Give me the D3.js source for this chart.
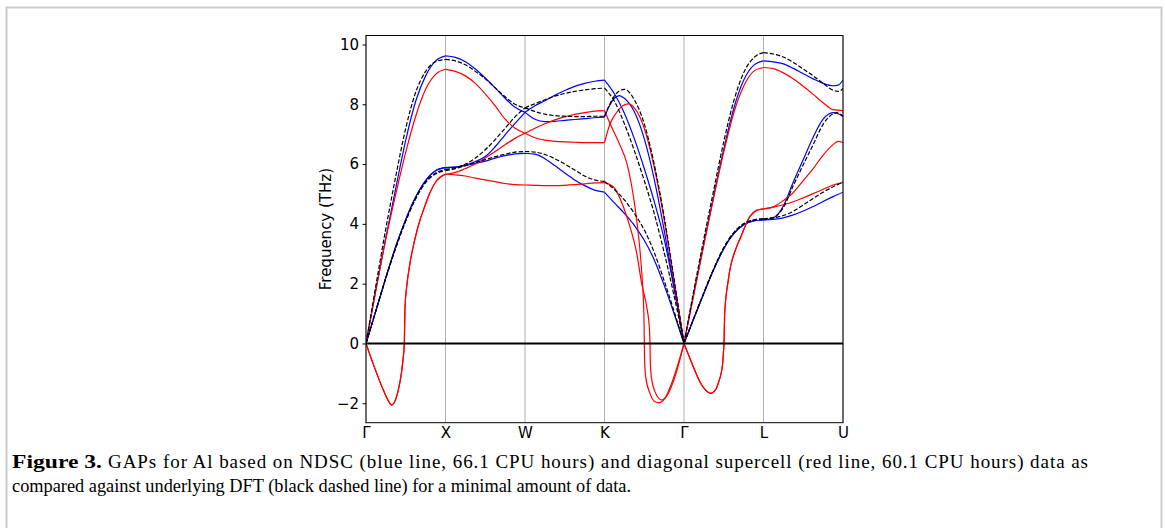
<!DOCTYPE html>
<html>
<head>
<meta charset="utf-8">
<script src="https://cdn.jsdelivr.net/npm/d3@7"></script>
<style>
  body { margin: 0; background: #fff; }
  svg { display: block; }
</style>
</head>
<body>
<div id="chart"></div>
<script>
// path positions of the high-symmetry points and their labels
var qTicks = [0, 1, 2, 3, 4, 5, 6];
var qLabels = ["Γ", "X", "W", "K", "Γ", "L", "U"];
var yTicks = [-2, 0, 2, 4, 6, 8, 10];

// DFT (black dashed), [q, THz]
var dftTop = [[0,0],[0.125,1.95],[0.25,3.85],[0.375,5.6],[0.5,7.2],[0.625,8.4],[0.75,9.1],[0.875,9.42],[1,9.5],
  [1.125,9.45],[1.25,9.32],[1.375,9.1],[1.5,8.85],[1.625,8.55],[1.75,8.25],[1.875,8.0],[2,7.88],
  [2.125,8.02],[2.25,8.15],[2.375,8.27],[2.5,8.36],[2.625,8.43],[2.75,8.48],[2.875,8.52],[3,8.54],
  [3.125,8.1],[3.25,7.35],[3.375,6.45],[3.5,5.45],[3.625,4.35],[3.75,3.05],[3.875,1.6],[4,0],
  [4.125,1.8],[4.25,3.5],[4.375,5.15],[4.5,6.75],[4.625,8.1],[4.75,9.05],[4.875,9.55],[5,9.73],
  [5.125,9.68],[5.25,9.58],[5.375,9.4],[5.5,9.18],[5.625,8.95],[5.75,8.7],[5.875,8.47],[5.94,8.43],[6,8.53]];
var dftMid = [[0,0],[0.125,1.1],[0.25,2.2],[0.375,3.2],[0.5,4.1],[0.625,4.85],[0.75,5.4],[0.875,5.7],[1,5.82],
  [1.125,5.88],[1.25,6.0],[1.375,6.2],[1.5,6.48],[1.625,6.82],[1.75,7.2],[1.875,7.58],[2,7.88],
  [2.125,7.76],[2.25,7.67],[2.375,7.62],[2.5,7.6],[2.625,7.59],[2.75,7.59],[2.875,7.6],[3,7.6],
  [3.0625,7.98],[3.125,8.28],[3.1875,8.45],[3.25,8.5],[3.3125,8.4],[3.375,8.15],[3.5,7.35],[3.625,6.0],[3.75,4.25],[3.875,2.15],[4,0],
  [4.125,0.85],[4.25,1.7],[4.375,2.5],[4.5,3.2],[4.625,3.7],[4.75,4.0],[4.875,4.13],[5,4.17],
  [5.125,4.22],[5.25,4.55],[5.375,5.28],[5.5,5.98],[5.625,6.65],[5.75,7.33],[5.875,7.68],[5.92,7.72],[6,7.6]];
var dftLow = [[0,0],[0.125,1.1],[0.25,2.2],[0.375,3.2],[0.5,4.1],[0.625,4.84],[0.75,5.38],[0.875,5.67],[1,5.78],
  [1.125,5.85],[1.25,5.95],[1.375,6.05],[1.5,6.15],[1.625,6.25],[1.75,6.33],[1.875,6.4],[2,6.42],
  [2.125,6.4],[2.25,6.32],[2.375,6.18],[2.5,6.0],[2.625,5.8],[2.75,5.6],[2.875,5.47],[3,5.42],
  [3.125,5.15],[3.25,4.8],[3.375,4.35],[3.5,3.8],[3.625,3.05],[3.75,2.1],[3.875,1.08],[4,0],
  [4.125,0.85],[4.25,1.7],[4.375,2.5],[4.5,3.2],[4.625,3.7],[4.75,4.0],[4.875,4.13],[5,4.17],
  [5.125,4.2],[5.25,4.28],[5.375,4.42],[5.5,4.63],[5.625,4.85],[5.75,5.06],[5.875,5.24],[6,5.4]];

// NDSC (blue)
var ndscTop = [[0,0],[0.125,1.8],[0.25,3.55],[0.375,5.2],[0.5,6.8],[0.625,8.1],[0.75,8.95],[0.875,9.45],[1,9.62],
  [1.125,9.57],[1.25,9.42],[1.375,9.18],[1.5,8.88],[1.625,8.55],[1.75,8.2],[1.875,7.9],[2,7.73],
  [2.125,7.95],[2.25,8.12],[2.375,8.3],[2.5,8.46],[2.625,8.6],[2.75,8.7],[2.875,8.77],[3,8.81],
  [3.125,8.35],[3.25,7.7],[3.375,6.85],[3.5,5.85],[3.625,4.75],[3.75,3.5],[3.875,1.85],[4,0],
  [4.125,1.7],[4.25,3.35],[4.375,4.95],[4.5,6.5],[4.625,7.85],[4.75,8.8],[4.875,9.3],[5,9.45],
  [5.125,9.42],[5.25,9.35],[5.375,9.2],[5.5,9.02],[5.625,8.85],[5.75,8.7],[5.875,8.62],[5.94,8.64],[6,8.81]];
var ndscMid = [[0,0],[0.125,1.1],[0.25,2.2],[0.375,3.25],[0.5,4.15],[0.625,4.9],[0.75,5.45],[0.875,5.78],[1,5.88],
  [1.125,5.9],[1.25,5.97],[1.375,6.08],[1.5,6.25],[1.625,6.58],[1.75,6.98],[1.875,7.36],[2,7.73],
  [2.125,7.5],[2.25,7.42],[2.375,7.43],[2.5,7.46],[2.625,7.49],[2.75,7.52],[2.875,7.55],[3,7.57],
  [3.0625,7.95],[3.125,8.2],[3.1875,8.29],[3.25,8.2],[3.375,7.75],[3.5,6.85],[3.625,5.5],[3.75,3.8],[3.875,1.9],[4,0],
  [4.125,0.85],[4.25,1.68],[4.375,2.48],[4.5,3.17],[4.625,3.67],[4.75,3.97],[4.875,4.1],[5,4.13],
  [5.125,4.2],[5.25,4.6],[5.375,5.4],[5.5,6.15],[5.625,6.9],[5.75,7.5],[5.875,7.72],[5.92,7.7],[6,7.59]];
var ndscLow = [[0,0],[0.125,1.1],[0.25,2.2],[0.375,3.25],[0.5,4.15],[0.625,4.9],[0.75,5.45],[0.875,5.78],[1,5.88],
  [1.125,5.9],[1.25,5.95],[1.375,6.02],[1.5,6.1],[1.625,6.2],[1.75,6.28],[1.875,6.34],[2,6.36],
  [2.125,6.33],[2.25,6.18],[2.375,5.95],[2.5,5.7],[2.625,5.47],[2.75,5.28],[2.875,5.13],[3,5.06],
  [3.125,4.7],[3.25,4.35],[3.375,3.95],[3.5,3.45],[3.625,2.8],[3.75,1.95],[3.875,1.0],[4,0],
  [4.125,0.85],[4.25,1.68],[4.375,2.48],[4.5,3.17],[4.625,3.67],[4.75,3.97],[4.875,4.1],[5,4.13],
  [5.125,4.15],[5.25,4.2],[5.375,4.3],[5.5,4.43],[5.625,4.58],[5.75,4.75],[5.875,4.91],[6,5.06]];

// diagonal supercell (red), imaginary modes plotted negative
var diagTop = [[0,0],[0.125,1.8],[0.25,3.5],[0.375,5.0],[0.5,6.4],[0.625,7.6],[0.75,8.5],[0.875,9.0],[1,9.17],
  [1.125,9.1],[1.25,8.95],[1.375,8.7],[1.5,8.35],[1.625,7.95],[1.75,7.5],[1.875,7.2],[2,7.03],
  [2.125,7.2],[2.25,7.35],[2.375,7.48],[2.5,7.58],[2.625,7.66],[2.75,7.72],[2.875,7.77],[3,7.79],
  [3.07,7.35],[3.132,7.0],[3.2,6.6],[3.279,6.05],[3.34,5.3],[3.405,4.13],[3.45,3.0],[3.478,2.0],[3.492,1.25],[3.498,0.6],[3.501,0],
  [3.505,-0.6],[3.518,-1.11],[3.572,-1.67],[3.635,-1.95],[3.686,-1.98],[3.761,-1.83],[3.845,-1.33],[3.928,-0.66],[4,0],
  [4.125,1.65],[4.25,3.3],[4.375,4.9],[4.5,6.4],[4.625,7.7],[4.75,8.6],[4.875,9.1],[5,9.23],
  [5.125,9.19],[5.25,9.05],[5.375,8.85],[5.5,8.6],[5.625,8.33],[5.75,8.05],[5.875,7.82],[6,7.79]];
var diagMid = [[0,0],[0.072,-0.55],[0.135,-1.0],[0.218,-1.56],[0.3,-2.0],[0.323,-2.06],[0.35,-2.0],[0.406,-1.56],
  [0.445,-1.0],[0.465,-0.55],[0.482,0],[0.486,0.6],[0.491,1.23],[0.512,1.9],[0.553,2.68],[0.616,3.5],[0.679,4.13],
  [0.721,4.45],[0.805,5.05],[0.889,5.45],[1,5.66],
  [1.125,5.72],[1.25,5.85],[1.375,6.0],[1.5,6.2],[1.625,6.42],[1.75,6.65],[1.875,6.86],[2,7.03],
  [2.125,6.88],[2.25,6.8],[2.375,6.76],[2.5,6.74],[2.625,6.73],[2.75,6.72],[2.875,6.72],[3,6.72],
  [3.07,7.35],[3.132,7.65],[3.2,7.88],[3.3,8.01],[3.375,7.88],[3.5,7.2],[3.625,5.9],[3.75,4.15],[3.875,2.1],[4,0],
  [4.06,-0.4],[4.117,-0.78],[4.223,-1.39],[4.28,-1.58],[4.336,-1.67],[4.39,-1.58],[4.431,-1.33],[4.487,-0.66],
  [4.496,-0.3],[4.503,0],[4.512,1.01],[4.557,2.12],[4.663,3.24],[4.704,3.5],[4.83,4.25],[4.914,4.45],[5,4.5],
  [5.125,4.57],[5.25,4.78],[5.375,5.05],[5.5,5.45],[5.625,5.85],[5.75,6.3],[5.875,6.65],[5.94,6.76],[6,6.72]];
var diagLow = [[0,0],[0.072,-0.55],[0.135,-1.0],[0.218,-1.56],[0.3,-2.0],[0.323,-2.06],[0.35,-2.0],[0.406,-1.56],
  [0.445,-1.0],[0.465,-0.55],[0.482,0],[0.486,0.6],[0.491,1.23],[0.512,1.9],[0.553,2.68],[0.616,3.5],[0.679,4.13],
  [0.721,4.45],[0.805,5.05],[0.889,5.45],[1,5.66],
  [1.125,5.64],[1.25,5.6],[1.375,5.53],[1.5,5.47],[1.625,5.41],[1.75,5.35],[1.875,5.31],[2,5.3],
  [2.125,5.29],[2.25,5.28],[2.375,5.28],[2.5,5.29],[2.625,5.31],[2.75,5.34],[2.875,5.37],[3,5.38],
  [3.111,5.24],[3.236,4.58],[3.321,3.9],[3.405,3.02],[3.468,2.0],[3.531,1.23],[3.555,0.8],[3.566,0.45],[3.572,0],
  [3.576,-0.6],[3.589,-1.11],[3.635,-1.61],[3.719,-1.89],[3.803,-1.67],[3.887,-1.11],[4,0],
  [4.06,-0.4],[4.117,-0.78],[4.223,-1.39],[4.28,-1.58],[4.336,-1.67],[4.39,-1.58],[4.431,-1.33],[4.487,-0.66],
  [4.496,-0.3],[4.503,0],[4.512,1.01],[4.557,2.12],[4.663,3.24],[4.704,3.5],[4.83,4.25],[4.914,4.45],[5,4.5],
  [5.125,4.56],[5.25,4.64],[5.375,4.74],[5.5,4.87],[5.625,5.01],[5.75,5.16],[5.875,5.3],[6,5.38]];

var W = 1165, H = 528;
var margin = {top: 35.5, left: 366, right: 1165 - 843, bottom: 528 - 422.7};
var width = W - margin.left - margin.right,
    height = H - margin.top - margin.bottom;

var svg = d3.select("#chart").append("svg")
    .attr("width", W)
    .attr("height", H);

// page frame
svg.append("rect")
    .attr("x", 6.5).attr("y", 7.5)
    .attr("width", 1155).attr("height", 600)
    .attr("fill", "none")
    .attr("stroke", "#cccccc")
    .attr("stroke-width", 2);

var g = svg.append("g")
    .attr("transform", "translate(" + margin.left + "," + margin.top + ")");

var x = d3.scaleLinear().domain([0, 6]).range([0, width]);
var y = d3.scaleLinear().domain([-2.65, 10.3]).range([height, 0]);

g.append("defs").append("clipPath").attr("id", "clip")
  .append("rect").attr("width", width).attr("height", height);

// vertical grid at high-symmetry points
g.selectAll(".vgrid")
  .data(qTicks)
  .enter().append("line")
    .attr("x1", function(d) { return x(d); })
    .attr("x2", function(d) { return x(d); })
    .attr("y1", 0).attr("y2", height)
    .attr("stroke", "#b0b0b0")
    .attr("stroke-width", 1);

var plot = g.append("g").attr("clip-path", "url(#clip)");

var line = d3.line()
    .x(function(d) { return x(d[0]); })
    .y(function(d) { return y(d[1]); })
    .curve(d3.curveMonotoneX);

// cut a band at each high-symmetry point so kinks stay kinks
function pieces(band) {
  var out = [];
  for (var s = 0; s < 6; s++) {
    out.push(band.filter(function(p) { return p[0] >= s && p[0] <= s + 1; }));
  }
  return out;
}

function drawBands(bands, color, dash) {
  bands.forEach(function(band) {
    plot.selectAll(null)
      .data(pieces(band))
      .enter().append("path")
        .attr("d", line)
        .attr("fill", "none")
        .attr("stroke", color)
        .attr("stroke-width", 1.2)
        .attr("stroke-dasharray", dash);
  });
}

drawBands([ndscTop, ndscMid, ndscLow], "#0000ff", null);
drawBands([diagTop, diagMid, diagLow], "#ff0000", null);
drawBands([dftTop, dftMid, dftLow], "#000000", "4.4,1.9");

// zero line
g.append("line")
    .attr("x1", 0).attr("x2", width)
    .attr("y1", y(0)).attr("y2", y(0))
    .attr("stroke", "#000").attr("stroke-width", 2);

// axes
var yAxis = g.append("g")
    .call(d3.axisLeft(y).tickValues(yTicks).tickSize(3.5).tickPadding(3.5)
      .tickFormat(function(d) { return d < 0 ? "\u2212" + Math.abs(d) : d; }));
yAxis.select(".domain").remove();
yAxis.selectAll("text").attr("font-family", "DejaVu Sans").attr("font-size", 15).attr("fill", "#000");

var xAxis = g.append("g")
    .attr("transform", "translate(0," + height + ")")
    .call(d3.axisBottom(x).tickValues(qTicks).tickSize(0).tickPadding(5)
      .tickFormat(function(d, i) { return qLabels[i]; }));
xAxis.select(".domain").remove();
xAxis.selectAll("text").attr("font-family", "DejaVu Sans").attr("font-size", 15).attr("fill", "#000");

g.append("rect")
    .attr("width", width).attr("height", height)
    .attr("fill", "none").attr("stroke", "#000").attr("stroke-width", 1);

g.append("text")
    .attr("transform", "translate(" + (-35) + "," + (height / 2) + ") rotate(-90)")
    .attr("text-anchor", "middle")
    .attr("font-family", "DejaVu Sans")
    .attr("font-size", 15)
    .text("Frequency (THz)");

// caption
var capFont = "Liberation Serif";
svg.append("text")
    .attr("x", 12).attr("y", 468)
    .attr("font-family", capFont).attr("font-size", 19).attr("font-weight", "bold")
    .attr("textLength", 90).attr("lengthAdjust", "spacingAndGlyphs")
    .text("Figure 3.");
svg.append("text")
    .attr("x", 108).attr("y", 468)
    .attr("font-family", capFont).attr("font-size", 19)
    .attr("textLength", 1088 - 108).attr("lengthAdjust", "spacing")
    .text("GAPs for Al based on NDSC (blue line, 66.1 CPU hours) and diagonal supercell (red line, 60.1 CPU hours) data as");
svg.append("text")
    .attr("x", 12).attr("y", 492)
    .attr("font-family", capFont).attr("font-size", 19)
    .attr("textLength", 619).attr("lengthAdjust", "spacingAndGlyphs")
    .text("compared against underlying DFT (black dashed line) for a minimal amount of data.");
</script>
</body>
</html>
